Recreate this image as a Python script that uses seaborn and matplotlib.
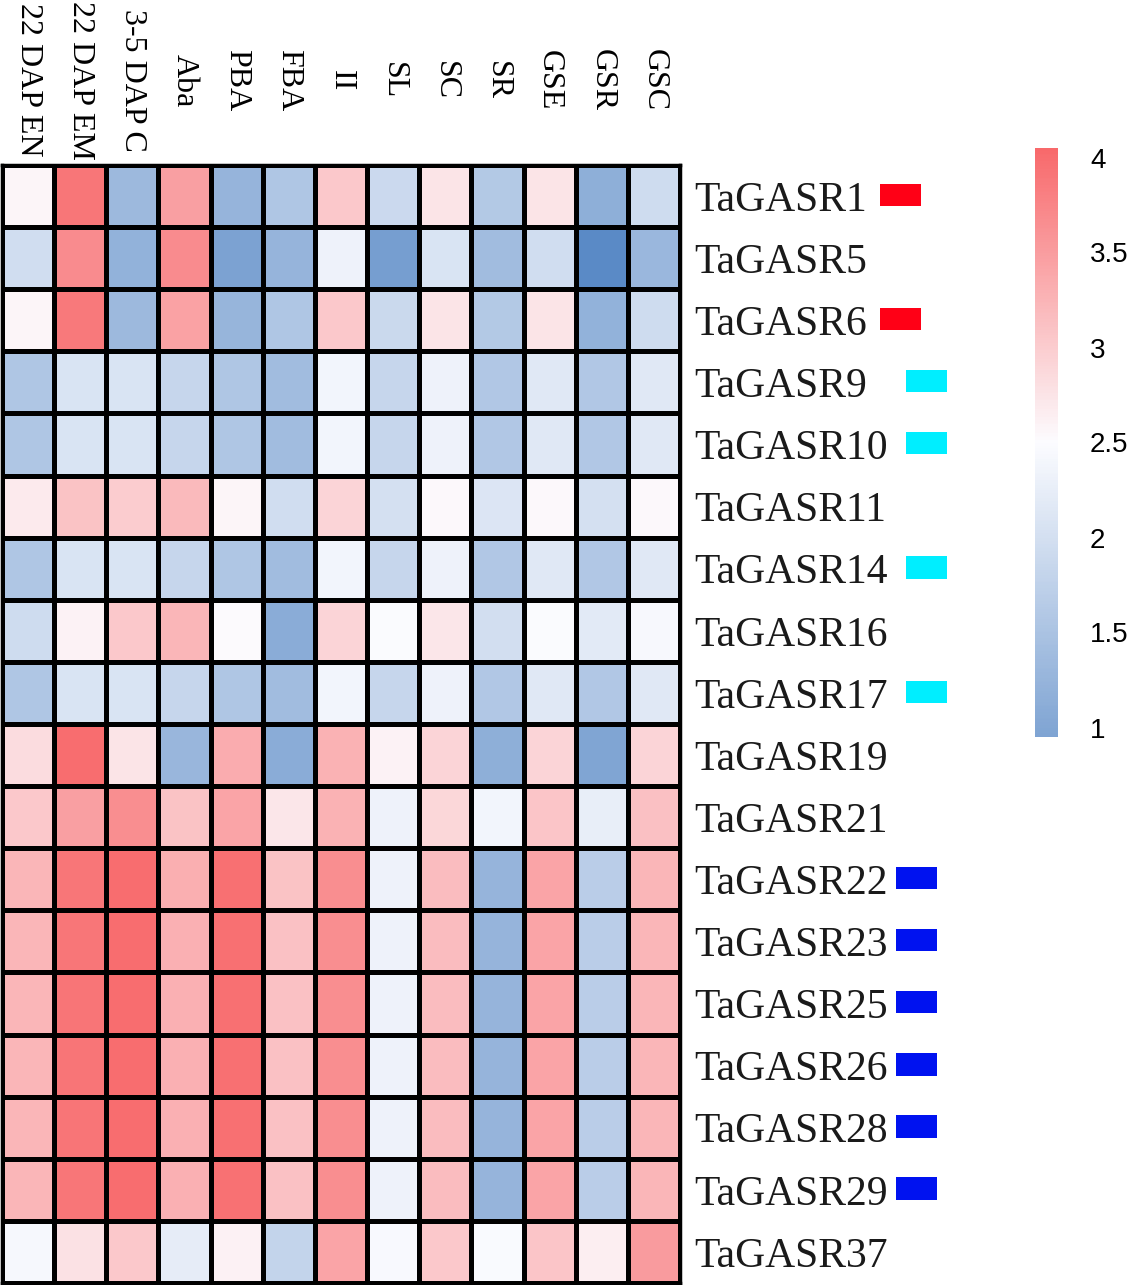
import numpy as np
import pandas as pd
import matplotlib
matplotlib.use("Agg")
import matplotlib.pyplot as plt
import seaborn as sns
from matplotlib.colors import LinearSegmentedColormap
from matplotlib.patches import Rectangle
import matplotlib.transforms as mtransforms

genes = ["TaGASR1", "TaGASR5", "TaGASR6", "TaGASR9", "TaGASR10", "TaGASR11",
         "TaGASR14", "TaGASR16", "TaGASR17", "TaGASR19", "TaGASR21", "TaGASR22",
         "TaGASR23", "TaGASR25", "TaGASR26", "TaGASR28", "TaGASR29", "TaGASR37"]
tissues = ["22 DAP EN", "22 DAP EM", "3-5 DAP C", "Aba", "PBA", "FBA", "II",
           "SL", "SC", "SR", "GSE", "GSR", "GSC"]

values = [
    [2.58, 3.90, 1.33, 3.47, 1.24, 1.55, 3.05, 1.90, 2.75, 1.60, 2.75, 1.15, 1.94],
    [1.96, 3.68, 1.20, 3.68, 0.92, 1.24, 2.32, 0.86, 2.08, 1.38, 1.96, 0.50, 1.30],
    [2.58, 3.88, 1.33, 3.45, 1.26, 1.55, 3.05, 1.88, 2.75, 1.60, 2.75, 1.20, 1.94],
    [1.55, 2.08, 2.08, 1.84, 1.55, 1.38, 2.38, 1.84, 2.32, 1.58, 2.16, 1.58, 2.16],
    [1.55, 2.08, 2.08, 1.84, 1.55, 1.38, 2.38, 1.84, 2.32, 1.58, 2.16, 1.58, 2.16],
    [2.68, 3.10, 3.00, 3.20, 2.57, 1.96, 2.92, 2.00, 2.55, 2.10, 2.55, 2.00, 2.55],
    [1.55, 2.08, 2.08, 1.84, 1.55, 1.38, 2.38, 1.84, 2.32, 1.58, 2.16, 1.58, 2.16],
    [1.94, 2.60, 3.05, 3.24, 2.52, 1.10, 2.92, 2.47, 2.73, 1.98, 2.47, 2.18, 2.43],
    [1.55, 2.08, 2.08, 1.84, 1.55, 1.38, 2.38, 1.84, 2.32, 1.58, 2.16, 1.58, 2.16],
    [2.84, 4.00, 2.75, 1.28, 3.34, 1.10, 3.28, 2.60, 2.92, 1.15, 2.92, 0.98, 2.92],
    [3.05, 3.47, 3.66, 3.10, 3.42, 2.73, 3.28, 2.32, 2.89, 2.38, 3.07, 2.26, 3.13],
    [3.24, 3.90, 4.00, 3.31, 3.98, 3.10, 3.66, 2.32, 3.17, 1.24, 3.42, 1.68, 3.24],
    [3.24, 3.91, 4.00, 3.30, 3.98, 3.12, 3.66, 2.32, 3.17, 1.24, 3.42, 1.68, 3.24],
    [3.24, 3.92, 4.00, 3.30, 3.98, 3.12, 3.66, 2.32, 3.17, 1.24, 3.42, 1.68, 3.24],
    [3.24, 3.92, 4.00, 3.30, 3.98, 3.12, 3.66, 2.32, 3.17, 1.24, 3.42, 1.68, 3.24],
    [3.24, 3.92, 4.00, 3.30, 3.98, 3.12, 3.66, 2.32, 3.17, 1.24, 3.42, 1.68, 3.24],
    [3.24, 3.90, 4.00, 3.30, 3.96, 3.12, 3.66, 2.32, 3.17, 1.24, 3.42, 1.68, 3.24],
    [2.42, 2.78, 3.05, 2.22, 2.62, 1.80, 3.42, 2.45, 3.05, 2.46, 3.07, 2.64, 3.52],
]

# marker groups for the row labels
marker_group = {"TaGASR1": "red", "TaGASR6": "red",
                "TaGASR9": "cyan", "TaGASR10": "cyan", "TaGASR14": "cyan", "TaGASR17": "cyan",
                "TaGASR22": "blue", "TaGASR23": "blue", "TaGASR25": "blue",
                "TaGASR26": "blue", "TaGASR28": "blue", "TaGASR29": "blue"}
marker_style = {"red": ("#FF0016", 880), "cyan": ("#00EEFF", 906), "blue": ("#0012F0", 896)}

cbar_ticks = [1, 1.5, 2, 2.5, 3, 3.5, 4]
cbar_ticklabels = ["1", "1.5", "2", "2.5", "3", "3.5", "4"]

df = pd.DataFrame(values, index=genes, columns=tissues)

vmin, vcenter, vmax = 0.5, 2.5, 4.05
cmap = LinearSegmentedColormap.from_list(
    "bwr_excel",
    [(0.0, "#5A8AC6"), ((vcenter - vmin) / (vmax - vmin), "#FCFCFF"), (1.0, "#F8696B")])

W, H = 1133, 1285
fig = plt.figure(figsize=(W / 100, H / 100), dpi=100)
ax = fig.add_axes([2 / W, 2 / H, 678 / W, 1118 / H])
cax = fig.add_axes([1035 / W, (H - 737) / H, 23 / W, 589 / H])

sns.heatmap(df, ax=ax, cbar_ax=cax, cmap=cmap, vmin=vmin, vmax=vmax,
            linewidths=2.2, linecolor="black",
            cbar_kws={"boundaries": np.linspace(0.95, 4.05, 400), "ticks": cbar_ticks})

for s in ax.spines.values():
    s.set_visible(True)
    s.set_color("black")
    s.set_linewidth(2.5)

serif = ["Liberation Serif", "DejaVu Serif"]
ax.xaxis.set_ticks_position("top")
ax.tick_params(axis="x", top=True, bottom=False, labeltop=True, labelbottom=False,
               length=0, pad=61)
for lab in ax.get_xticklabels():
    lab.set_rotation(270)
    lab.set_va("center")
    lab.set_ha("center")
    lab.set_fontsize(23)
    lab.set_family(serif)

ax.yaxis.tick_right()
ax.tick_params(axis="y", length=0, pad=10)
for lab in ax.get_yticklabels():
    lab.set_rotation(0)
    lab.set_fontsize(30)
    lab.set_family(serif)
    lab.set_color("#1a1a1a")

# colored markers after labels
trans = mtransforms.blended_transform_factory(fig.transFigure, ax.transData)
for i, g in enumerate(genes):
    if g in marker_group:
        col, xpx = marker_style[marker_group[g]]
        ax.add_patch(Rectangle((xpx / W, i + 0.5 - 0.2), 41 / W, 0.36,
                               transform=trans, color=col, clip_on=False, lw=0))

cbar = ax.collections[0].colorbar
cbar.outline.set_visible(False)
cbar.set_ticks(cbar_ticks)
cbar.set_ticklabels(cbar_ticklabels)
cbar.ax.tick_params(length=0, pad=23)
for lab in cbar.ax.get_yticklabels():
    lab.set_fontsize(20)
    lab.set_family(["Liberation Sans", "DejaVu Sans"])

fig.savefig("out.png", dpi=100)
